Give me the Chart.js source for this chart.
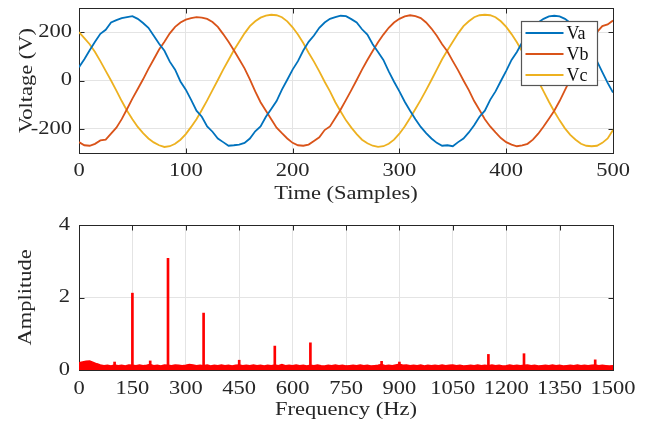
<!DOCTYPE html>
<html>
<head>
<meta charset="utf-8">
<script src="https://cdn.jsdelivr.net/npm/chart.js@4.4.0/dist/chart.umd.min.js"></script>
<style>
  body { margin: 0; background: #fff; }
  #wrap { position: relative; width: 649px; height: 425px; }
  .panel { position: absolute; left: 0; width: 649px; }
  #top { top: 0; height: 210px; }
  #bottom { top: 210px; height: 215px; }
</style>
</head>
<body>
<div id="wrap">
  <div class="panel" id="top"><canvas id="chart-wave"></canvas></div>
  <div class="panel" id="bottom"><canvas id="chart-fft"></canvas></div>
</div>
<script>
// three phase voltages, one value every 5 samples
var sampleStep = 5;
var va = [55, 88, 125, 160, 193, 210, 240, 250, 258, 262,
  266, 255, 238, 218, 185, 152, 123, 78, 45, -4,
  -38, -80, -125, -150, -190, -212, -240, -255, -270, -268,
  -265, -258, -240, -210, -190, -150, -118, -85, -38, 3,
  45, 80, 124, 160, 186, 218, 240, 255, 262, 268,
  266, 254, 240, 212, 190, 150, 118, 85, 38, -5,
  -45, -88, -125, -160, -192, -218, -240, -258, -270, -268,
  -272, -255, -240, -215, -185, -150, -125, -80, -45, -2,
  40, 85, 118, 158, 190, 210, 240, 255, 265, 268,
  265, 255, 238, 210, 190, 155, 118, 80, 35, -10,
  -50];
var vb = [-255, -268, -270, -262, -248, -245, -220, -195, -160, -118,
  -75, -35, 5, 48, 88, 128, 160, 195, 222, 240,
  252, 258, 262, 260, 255, 242, 222, 192, 160, 125,
  88, 50, 5, -45, -90, -125, -160, -195, -218, -240,
  -258, -268, -270, -265, -250, -235, -205, -190, -155, -120,
  -80, -40, 2, 45, 85, 122, 158, 190, 218, 240,
  255, 265, 270, 266, 258, 240, 215, 185, 150, 120,
  80, 42, 0, -40, -85, -122, -160, -190, -215, -238,
  -255, -265, -272, -268, -262, -245, -220, -190, -158, -125,
  -85, -40, 5, 45, 85, 125, 165, 200, 225, 232,
  248];
var vc = [200, 175, 150, 118, 80, 40, 0, -42, -85, -125,
  -160, -192, -218, -240, -256, -268, -275, -272, -262, -245,
  -222, -192, -160, -122, -82, -40, 2, 45, 85, 125,
  160, 195, 225, 245, 260, 268, 272, 270, 262, 245,
  220, 190, 155, 115, 78, 38, -5, -45, -90, -128,
  -165, -195, -222, -245, -260, -270, -275, -272, -262, -245,
  -220, -190, -155, -118, -80, -40, 2, 45, 88, 125,
  160, 195, 225, 245, 262, 270, 272, 270, 262, 245,
  222, 192, 158, 120, 80, 38, -2, -45, -88, -128,
  -165, -198, -225, -245, -262, -270, -272, -270, -258, -240,
  -205];
var timeTicks = [0, 100, 200, 300, 400, 500];
var voltTicks = [-200, 0, 200];

// spectrum: noise floor every 10 Hz plus the harmonic lines
var floorStep = 10;
var floorAmp = [0.20, 0.22, 0.24, 0.25, 0.21, 0.17, 0.14, 0.12, 0.13, 0.11,
  0.14, 0.12, 0.13, 0.11, 0.14, 0.13, 0.12, 0.14, 0.12, 0.13,
  0.15, 0.12, 0.13, 0.11, 0.14, 0.13, 0.12, 0.14, 0.13, 0.12,
  0.13, 0.15, 0.14, 0.12, 0.13, 0.12, 0.14, 0.11, 0.13, 0.12,
  0.14, 0.12, 0.13, 0.11, 0.13, 0.14, 0.12, 0.13, 0.12, 0.14,
  0.12, 0.13, 0.11, 0.13, 0.12, 0.14, 0.12, 0.15, 0.12, 0.13,
  0.12, 0.14, 0.12, 0.13, 0.11, 0.13, 0.12, 0.14, 0.12, 0.11,
  0.13, 0.12, 0.14, 0.12, 0.13, 0.11, 0.12, 0.13, 0.12, 0.14,
  0.12, 0.13, 0.11, 0.12, 0.13, 0.15, 0.12, 0.13, 0.12, 0.14,
  0.16, 0.13, 0.14, 0.12, 0.13, 0.12, 0.14, 0.11, 0.13, 0.12,
  0.13, 0.12, 0.14, 0.12, 0.13, 0.14, 0.12, 0.13, 0.11, 0.12,
  0.13, 0.12, 0.14, 0.12, 0.13, 0.12, 0.14, 0.12, 0.13, 0.11,
  0.12, 0.14, 0.12, 0.13, 0.12, 0.13, 0.14, 0.12, 0.13, 0.11,
  0.12, 0.13, 0.12, 0.14, 0.12, 0.13, 0.11, 0.12, 0.13, 0.12,
  0.14, 0.12, 0.13, 0.12, 0.13, 0.14, 0.12, 0.13, 0.12, 0.11,
  0.12];
var peakFreqs = [100, 150, 200, 250, 350, 450, 550, 650, 850, 900, 1150, 1250, 1450];
var peakAmps = [0.22, 2.12, 0.25, 3.08, 1.57, 0.27, 0.66, 0.75, 0.24, 0.22, 0.43, 0.45, 0.28];
var freqTicks = [0, 150, 300, 450, 600, 750, 900, 1050, 1200, 1350, 1500];
var ampTicks = [0, 2, 4];

var axisFont = { family: 'Liberation Serif', size: 18 };
var inkColor = '#262626';
var gridColor = '#e4e4e4';

// axis lettering is set a little wide; squeeze nothing, just stretch along the text
function widenText(ctx, sx) {
  ctx.fillText = function(text, x, y) {
    this.save();
    this.translate(x, y);
    this.scale(sx, 1);
    CanvasRenderingContext2D.prototype.fillText.call(this, text, 0, 0);
    this.restore();
  };
}

function toPoints(values, step) {
  return values.map(function(v, i) { return { x: i * step, y: v }; });
}

function fixedTicks(list) {
  return function(scale) {
    scale.ticks = list.map(function(v) { return { value: v }; });
  };
}

function plainLabel(value) {
  return String(value);
}

// keep the axis boxes at a fixed size so both panels line up
function fixWidth(w) {
  return function(scale) {
    scale.width = w;
    scale.paddingTop = 0;
    scale.paddingBottom = 0;
  };
}
function fixHeight(h) {
  return function(scale) {
    scale.height = h;
    scale.paddingLeft = 0;
    scale.paddingRight = 0;
  };
}

// box round the plot with small inward ticks on every side
var framePlugin = {
  id: 'frame',
  beforeDatasetsDraw: function(chart) {
    var a = chart.chartArea, ctx = chart.ctx;
    var xs = chart.scales.x, ys = chart.scales.y;
    var l = Math.round(a.left) + 0.5, r = Math.round(a.right) + 0.5;
    var t = Math.round(a.top) + 0.5, b = Math.round(a.bottom) + 0.5;
    ctx.save();
    ctx.strokeStyle = inkColor;
    ctx.lineWidth = 1;
    ctx.strokeRect(l, t, r - l, b - t);
    ctx.beginPath();
    xs.ticks.forEach(function(tk) {
      var px = Math.round(xs.getPixelForValue(tk.value)) + 0.5;
      ctx.moveTo(px, b); ctx.lineTo(px, b - 5);
      ctx.moveTo(px, t); ctx.lineTo(px, t + 5);
    });
    ys.ticks.forEach(function(tk) {
      var py = Math.round(ys.getPixelForValue(tk.value)) + 0.5;
      ctx.moveTo(l, py); ctx.lineTo(l + 5, py);
      ctx.moveTo(r, py); ctx.lineTo(r - 5, py);
    });
    ctx.stroke();
    ctx.restore();
  }
};

// boxed legend in the upper right corner of the plot
var boxLegend = {
  id: 'boxLegend',
  afterDraw: function(chart) {
    var a = chart.chartArea, ctx = chart.ctx;
    var w = 76, h = 64;
    var x = Math.round(a.right - 16 - w) + 0.5, y = Math.round(a.top + 13) + 0.5;
    ctx.save();
    ctx.fillStyle = '#fff';
    ctx.fillRect(x, y, w, h);
    ctx.strokeStyle = '#555';
    ctx.lineWidth = 1.2;
    ctx.strokeRect(x, y, w, h);
    ctx.font = '18px "Liberation Serif"';
    ctx.textBaseline = 'middle';
    chart.data.datasets.forEach(function(ds, i) {
      var ry = y + 11.5 + i * 21;
      ctx.strokeStyle = ds.borderColor;
      ctx.lineWidth = 2;
      ctx.beginPath();
      ctx.moveTo(x + 4, ry);
      ctx.lineTo(x + 42, ry);
      ctx.stroke();
      ctx.fillStyle = '#111';
      CanvasRenderingContext2D.prototype.fillText.call(ctx, ds.label, x + 45, ry + 1);
    });
    ctx.restore();
  }
};

function waveSet(label, values, color) {
  return {
    label: label,
    data: toPoints(values, sampleStep),
    borderColor: color,
    borderWidth: 1.8,
    pointRadius: 0,
    tension: 0
  };
}

var configWave = {
  type: 'line',
  data: {
    datasets: [
      waveSet('Va', va, '#0072BD'),
      waveSet('Vb', vb, '#D95319'),
      waveSet('Vc', vc, '#EDB120')
    ]
  },
  options: {
    responsive: true,
    maintainAspectRatio: false,
    animation: false,
    layout: { padding: { left: 0, right: 36, top: 8, bottom: 0 } },
    plugins: { legend: { display: false }, tooltip: { enabled: false } },
    scales: {
      x: {
        type: 'linear', min: 0, max: 500,
        afterBuildTicks: fixedTicks(timeTicks),
        afterFit: fixHeight(57),
        grid: { color: gridColor, drawTicks: false },
        border: { display: false },
        ticks: { font: axisFont, color: inkColor, padding: 7, maxRotation: 0, callback: plainLabel },
        title: { display: true, text: 'Time (Samples)', font: axisFont, color: inkColor, padding: { top: 0, bottom: 5 } }
      },
      y: {
        min: -300, max: 300,
        afterBuildTicks: fixedTicks(voltTicks),
        afterFit: fixWidth(79),
        grid: { color: gridColor, drawTicks: false },
        border: { display: false },
        ticks: { font: axisFont, color: inkColor, padding: 7, callback: plainLabel },
        title: { display: true, text: 'Voltage (V)', font: axisFont, color: inkColor, padding: { top: 16, bottom: 0 } }
      }
    }
  },
  plugins: [framePlugin, boxLegend]
};

var configFft = {
  type: 'bar',
  data: {
    datasets: [{
      type: 'bar',
      data: peakFreqs.map(function(f, i) { return { x: f, y: peakAmps[i] }; }),
      backgroundColor: '#ff0000',
      barThickness: 2,
      grouped: false
    }, {
      type: 'line',
      data: toPoints(floorAmp, floorStep),
      borderColor: '#ff0000',
      backgroundColor: '#ff0000',
      borderWidth: 1.5,
      pointRadius: 0,
      tension: 0,
      fill: 'origin'
    }]
  },
  options: {
    responsive: true,
    maintainAspectRatio: false,
    animation: false,
    layout: { padding: { left: 0, right: 36, top: 15, bottom: 0 } },
    plugins: { legend: { display: false }, tooltip: { enabled: false } },
    scales: {
      x: {
        type: 'linear', min: 0, max: 1500, offset: false,
        afterBuildTicks: fixedTicks(freqTicks),
        afterFit: fixHeight(55),
        grid: { color: gridColor, drawTicks: false, offset: false },
        border: { display: false },
        ticks: { font: axisFont, color: inkColor, padding: 8, maxRotation: 0, autoSkip: false, callback: plainLabel },
        title: { display: true, text: 'Frequency (Hz)', font: axisFont, color: inkColor, padding: { top: 0, bottom: 4 } }
      },
      y: {
        min: 0, max: 4,
        afterBuildTicks: fixedTicks(ampTicks),
        afterFit: fixWidth(79),
        grid: { color: gridColor, drawTicks: false },
        border: { display: false },
        ticks: { font: axisFont, color: inkColor, padding: 9, callback: plainLabel },
        title: { display: true, text: 'Amplitude', font: axisFont, color: inkColor, padding: { top: 15, bottom: 0 } }
      }
    }
  },
  plugins: [framePlugin]
};

window.onload = function() {
  var ctx = document.getElementById('chart-wave').getContext('2d');
  widenText(ctx, 1.25);
  window.waveChart = new Chart(ctx, configWave);
  ctx = document.getElementById('chart-fft').getContext('2d');
  widenText(ctx, 1.25);
  window.fftChart = new Chart(ctx, configFft);
};
</script>
</body>
</html>
